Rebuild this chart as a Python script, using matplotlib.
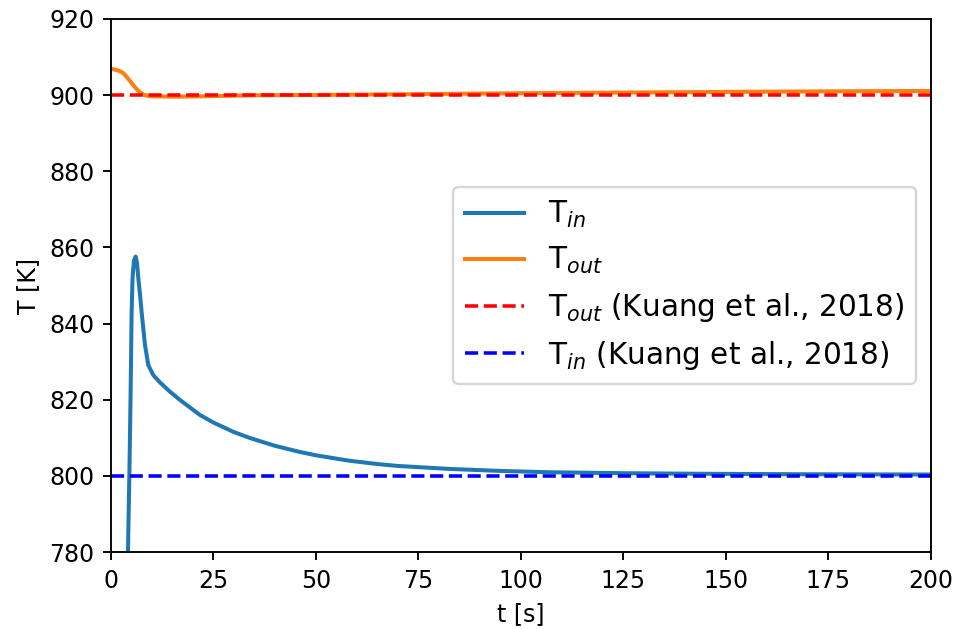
import matplotlib
matplotlib.use("Agg")
import matplotlib.pyplot as plt

# simulated inlet temperature
t_in = [4.15, 4.5, 4.8, 5.04, 5.27, 5.6, 6.02, 6.35, 6.67, 7.1, 7.48, 8.3, 9.1, 10.3, 12, 14.4,
        17, 21.7, 25, 30, 34, 40, 46, 50, 58, 65, 70, 83, 95, 107, 125, 144, 170, 200]
T_in = [780, 801, 822, 843, 852, 856.5, 857.6, 856, 852, 847.5, 843, 834.4, 829.1, 826.5, 824.5,
        822.1, 819.8, 816.0, 814.0, 811.5, 809.9, 807.9, 806.3, 805.4, 804.0, 803.1, 802.6,
        801.8, 801.3, 800.95, 800.7, 800.55, 800.42, 800.35]

# simulated outlet temperature
t_out = [0, 1, 2, 3, 4, 5, 6, 7, 8, 9, 10, 12, 15, 20, 25, 35, 50, 67, 100, 127, 150, 175, 200]
T_out = [906.9, 906.7, 906.4, 905.8, 904.6, 903.2, 901.9, 900.8, 900.1, 899.8, 899.7, 899.65,
         899.6, 899.65, 899.75, 899.95, 900.05, 900.2, 900.5, 900.7, 900.85, 901.0, 901.1]

# reference values (Kuang et al., 2018)
t_ref = [0, 200]
T_out_ref = [900, 900]
T_in_ref = [800, 800]

fig = plt.figure(figsize=(959 / 170, 629 / 170), dpi=170)
ax = fig.add_axes([0.1157, 0.1224, 0.855, 0.8474])

ax.plot(t_in, T_in, lw=1.7, label='T$_{in}$')
ax.plot(t_out, T_out, lw=1.7, label='T$_{out}$')
ax.plot(t_ref, T_out_ref, 'r--', label='T$_{out}$ (Kuang et al., 2018)')
ax.plot(t_ref, T_in_ref, 'b--', label='T$_{in}$ (Kuang et al., 2018)')

ax.set_xlim(0, 200)
ax.set_ylim(780, 920)
ax.set_xlabel('t [s]')
ax.set_ylabel('T [K]')
ax.legend(loc='center right', fontsize=12.5)

fig.savefig('out.png', dpi=170)
